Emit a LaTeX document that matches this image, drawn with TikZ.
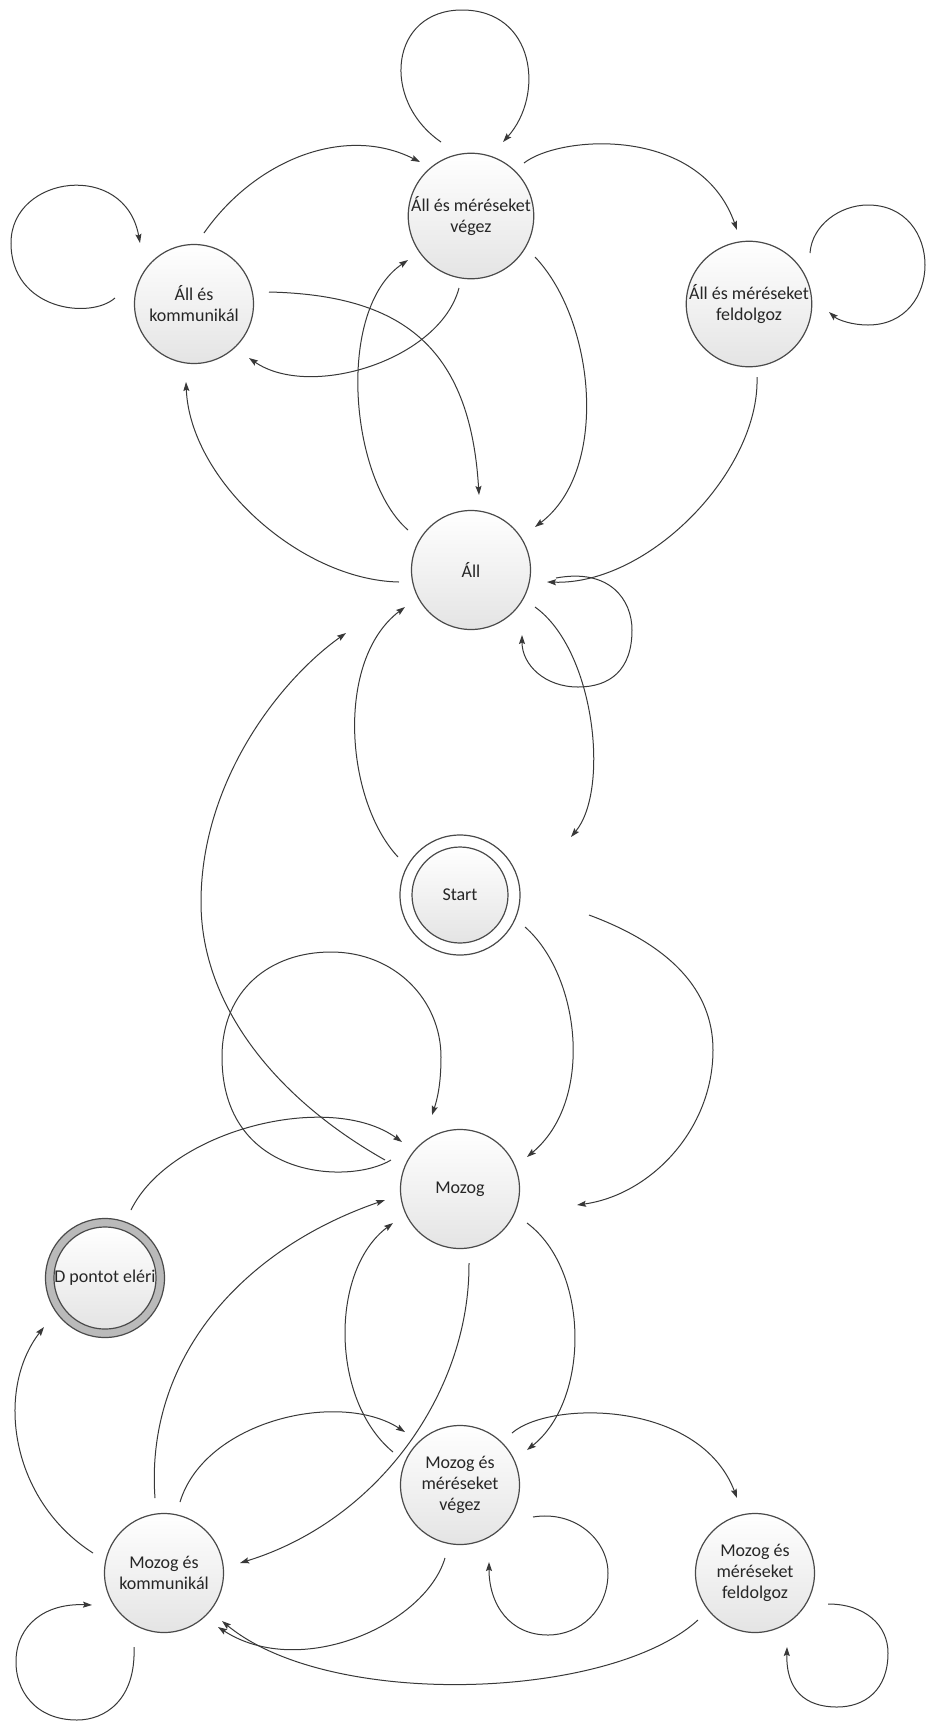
\documentclass[tikz,border=0pt]{standalone}
\usepackage{fontspec}
\setmainfont{Carlito}
\usetikzlibrary{calc,arrows.meta}
\definecolor{nodeline}{HTML}{4A4A4A}
\definecolor{fillbot}{HTML}{E4E4E4}
\definecolor{edgecol}{HTML}{383838}
\definecolor{txt}{HTML}{262626}
\definecolor{ringgray}{HTML}{BABABA}
\newcommand{\nodefont}{\fontsize{18}{21}\selectfont}
\tikzset{
  state/.style={circle, draw=nodeline, line width=1.2pt, minimum size=119pt,
    inner sep=0pt, top color=white, bottom color=fillbot, align=center,
    text=txt, font=\nodefont},
  ringout/.style={circle, draw=nodeline, line width=1.2pt, minimum size=120pt, inner sep=0pt},
  edge/.style={draw=edgecol, line width=1pt,
    -{Stealth[length=9pt,width=6pt,inset=1.5pt]}},
}
\begin{document}
\begin{tikzpicture}[x=1pt,y=-1pt]
\fill[white] (0,0) rectangle (928,1722);
\useasboundingbox (0,0) rectangle (928,1722);

% states
\node[state] (V1) at (471,216) {Áll és méréseket\\végez};
\node[state] (K1) at (194,304) {Áll és\\kommunikál};
\node[state] (F1) at (749,304) {Áll és méréseket\\feldolgoz};
\node[state] (A)  at (471,570) {Áll};
\node[ringout, fill=white] (S) at (460,895) {};
\node[state, minimum size=96pt] (Sin) at (S) {Start};
\node[state] (M)  at (460,1189) {Mozog};
\node[ringout, fill=ringgray, minimum size=119pt] (D) at (105,1278) {};
\node[state, minimum size=95pt] (Din) at (D) {D pontot eléri};
\node[state] (MV) at (460,1485) {Mozog és\\méréseket\\végez};
\node[state] (MK) at (164,1573) {Mozog és\\kommunikál};
\node[state] (MF) at (755,1573) {Mozog és\\méréseket\\feldolgoz};

% transitions among the standing states
\draw[edge] ($(V1)+(-30,-74)$) .. controls (380,100) and (390,10) .. (462,10)
  .. controls (535,10) and (545,95) .. ($(V1)+(32,-74)$);
\draw[edge] ($(K1)+(10,-71)$) .. controls (255,160) and (345,124) .. ($(V1)+(-51,-54)$);
\draw[edge] ($(V1)+(53,-53)$) .. controls (560,135) and (700,125) .. ($(F1)+(-12,-74)$);
\draw[edge] ($(K1)+(-79,-6)$) .. controls (90,320) and (11,310) .. (11,243)
  .. controls (11,175) and (125,160) .. ($(K1)+(-54,-61)$);
\draw[edge] ($(F1)+(61,-51)$) .. controls (812,225) and (840,205) .. (868,205)
  .. controls (944,205) and (944,325) .. (868,325)
  .. controls (852,325) and (838,320) .. ($(F1)+(80,8)$);
\draw[edge] ($(V1)+(-12,72)$) .. controls (440,360) and (310,400) .. ($(K1)+(55,54)$);
\draw[edge] ($(K1)+(75,-12)$) .. controls (400,295) and (470,345) .. ($(A)+(8,-75)$);
\draw[edge] ($(A)+(-63,-40)$) .. controls (350,480) and (335,310) .. ($(V1)+(-63,44)$);
\draw[edge] ($(V1)+(64,41)$) .. controls (595,320) and (610,470) .. ($(A)+(64,-43)$);
\draw[edge] ($(F1)+(8,73)$) .. controls (760,470) and (650,585) .. ($(A)+(76,12)$);
\draw[edge] ($(A)+(-72,12)$) .. controls (300,580) and (190,480) .. ($(K1)+(-8,78)$);
\draw[edge] ($(A)+(85,8)$) .. controls (610,568) and (632,600) .. (632,630)
  .. controls (632,670) and (610,687) .. (578,687)
  .. controls (545,687) and (522,665) .. ($(A)+(51,65)$);
\draw[edge] ($(A)+(64,37)$) .. controls (595,650) and (610,790) .. ($(S)+(111,-58)$);
\draw[edge] ($(S)+(-62,-38)$) .. controls (345,800) and (335,660) .. ($(A)+(-66,37)$);
\draw[edge] ($(M)+(-75,-29)$) .. controls (270,1095) and (200,1000) .. (201,900)
  .. controls (202,780) and (280,680) .. ($(A)+(-125,63)$);

% transitions into the moving state
\coordinate (sfree) at ($(S)+(129,20)$);
\draw[edge] ($(S)+(65,32)$) .. controls (580,975) and (595,1100) .. ($(M)+(67,-32)$);
\draw[edge] (sfree) .. controls (670,945) and (713,990) .. (713,1050)
  .. controls (713,1130) and (650,1195) .. ($(M)+(117,16)$);
\draw[edge] ($(M)+(-69,-29)$) .. controls (350,1185) and (222,1180) .. (222,1057)
  .. controls (222,990) and (270,952) .. (331,952)
  .. controls (395,952) and (441,1000) .. (441,1057)
  .. controls (441,1085) and (437,1100) .. ($(M)+(-28,-74)$);
\draw[edge] ($(D)+(26,-68)$) .. controls (170,1130) and (330,1090) .. ($(M)+(-58,-47)$);

% transitions among the moving states
\draw[edge] ($(MK)+(-9,-75)$) .. controls (145,1360) and (240,1250) .. ($(M)+(-75,11)$);
\draw[edge] ($(MV)+(-67,-33)$) .. controls (330,1400) and (330,1270) .. ($(M)+(-67,34)$);
\draw[edge] ($(M)+(67,34)$) .. controls (590,1270) and (590,1400) .. ($(MV)+(67,-35)$);
\draw[edge] ($(M)+(9,74)$) .. controls (470,1390) and (380,1520) .. ($(MK)+(76,-10)$);
\draw[edge] ($(MK)+(16,-71)$) .. controls (205,1420) and (340,1390) .. ($(MV)+(-55,-53)$);
\draw[edge] ($(MK)+(-71,-20)$) .. controls (10,1500) and (-5,1390) .. ($(D)+(-61,49)$);
\draw[edge] ($(MK)+(-30,74)$) .. controls (136,1700) and (105,1720) .. (77,1720)
  .. controls (35,1720) and (15,1690) .. (16,1660)
  .. controls (17,1625) and (45,1603) .. ($(MK)+(-72,32)$);
\draw[edge] ($(MV)+(52,-52)$) .. controls (550,1400) and (700,1400) .. ($(MF)+(-18,-75)$);
\draw[edge] ($(MV)+(73,32)$) .. controls (575,1510) and (608,1540) .. (608,1573)
  .. controls (608,1610) and (580,1635) .. (548,1635)
  .. controls (510,1635) and (489,1605) .. ($(MV)+(29,77)$);
\draw[edge] ($(MV)+(-15,73)$) .. controls (425,1625) and (300,1680) .. ($(MK)+(54,54)$);
\draw[edge] ($(MF)+(-57,47)$) .. controls (610,1700) and (330,1710) .. ($(MK)+(58,48)$);
\draw[edge] ($(MF)+(73,31)$) .. controls (865,1604) and (888,1625) .. (888,1653)
  .. controls (888,1690) and (865,1707) .. (837,1707)
  .. controls (805,1707) and (786,1690) .. ($(MF)+(32,74)$);
\end{tikzpicture}
\end{document}
